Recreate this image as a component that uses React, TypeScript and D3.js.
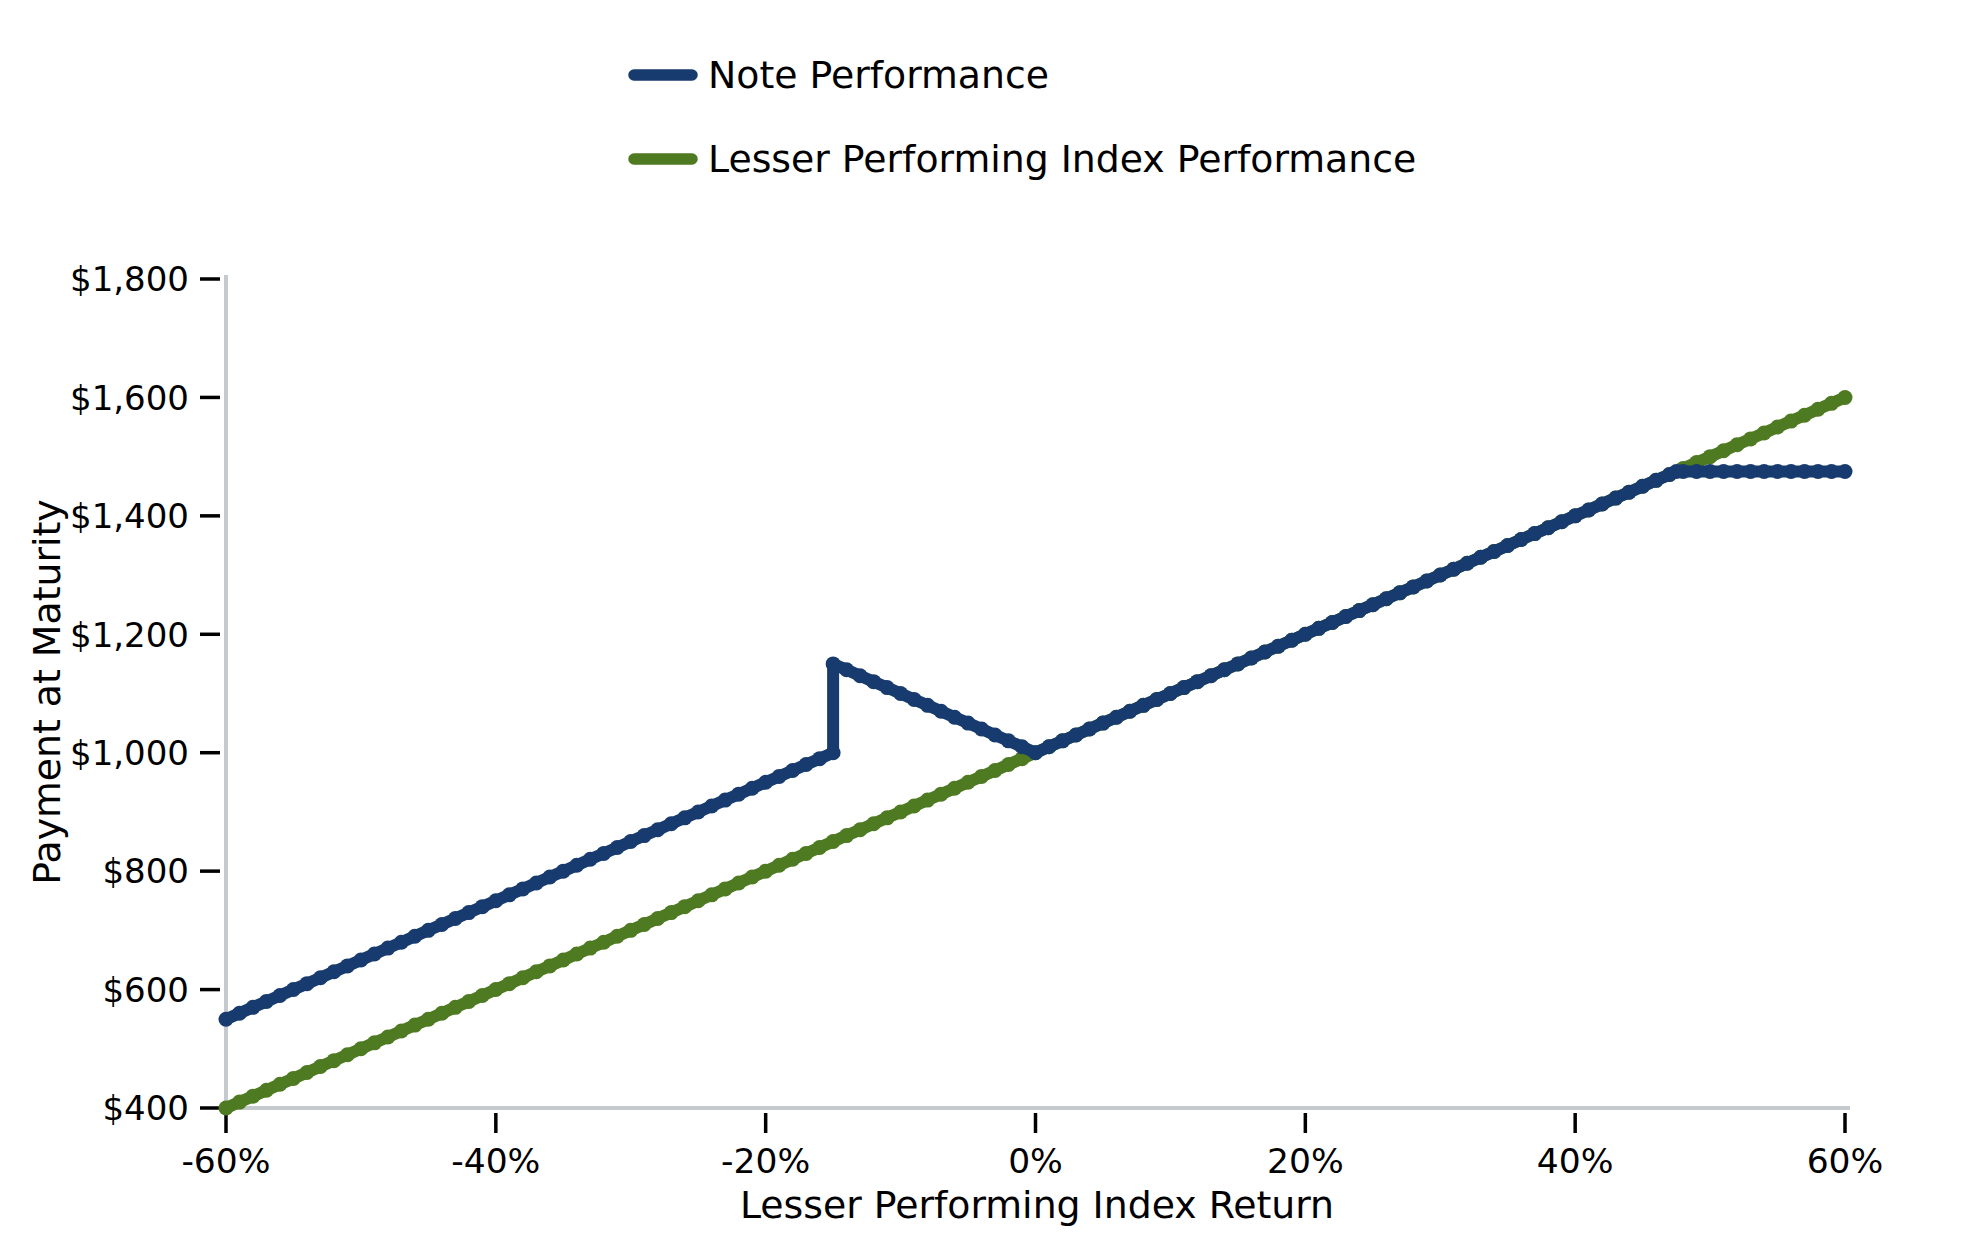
import React from "react";
import * as d3 from "d3";

// ---- data ----
const indexReturnPct = [
  -60, -59, -58, -57, -56, -55, -54, -53, -52, -51, -50, -49, -48, -47, -46, -45, -44, -43, -42, -41,
  -40, -39, -38, -37, -36, -35, -34, -33, -32, -31, -30, -29, -28, -27, -26, -25, -24, -23, -22, -21,
  -20, -19, -18, -17, -16, -15, -14, -13, -12, -11, -10, -9, -8, -7, -6, -5, -4, -3, -2, -1,
  0, 1, 2, 3, 4, 5, 6, 7, 8, 9, 10, 11, 12, 13, 14, 15, 16, 17, 18, 19,
  20, 21, 22, 23, 24, 25, 26, 27, 28, 29, 30, 31, 32, 33, 34, 35, 36, 37, 38, 39,
  40, 41, 42, 43, 44, 45, 46, 47, 48, 49, 50, 51, 52, 53, 54, 55, 56, 57, 58, 59, 60,
];
const indexPayment = [
  400, 410, 420, 430, 440, 450, 460, 470, 480, 490, 500, 510, 520, 530, 540, 550, 560, 570, 580, 590,
  600, 610, 620, 630, 640, 650, 660, 670, 680, 690, 700, 710, 720, 730, 740, 750, 760, 770, 780, 790,
  800, 810, 820, 830, 840, 850, 860, 870, 880, 890, 900, 910, 920, 930, 940, 950, 960, 970, 980, 990,
  1000, 1010, 1020, 1030, 1040, 1050, 1060, 1070, 1080, 1090, 1100, 1110, 1120, 1130, 1140, 1150, 1160, 1170, 1180, 1190,
  1200, 1210, 1220, 1230, 1240, 1250, 1260, 1270, 1280, 1290, 1300, 1310, 1320, 1330, 1340, 1350, 1360, 1370, 1380, 1390,
  1400, 1410, 1420, 1430, 1440, 1450, 1460, 1470, 1480, 1490, 1500, 1510, 1520, 1530, 1540, 1550, 1560, 1570, 1580, 1590, 1600,
];
const noteReturnPct = [
  -60, -59, -58, -57, -56, -55, -54, -53, -52, -51, -50, -49, -48, -47, -46, -45, -44, -43, -42, -41,
  -40, -39, -38, -37, -36, -35, -34, -33, -32, -31, -30, -29, -28, -27, -26, -25, -24, -23, -22, -21,
  -20, -19, -18, -17, -16, -15, -15, -14, -13, -12, -11, -10, -9, -8, -7, -6, -5, -4, -3, -2, -1,
  0, 1, 2, 3, 4, 5, 6, 7, 8, 9, 10, 11, 12, 13, 14, 15, 16, 17, 18, 19,
  20, 21, 22, 23, 24, 25, 26, 27, 28, 29, 30, 31, 32, 33, 34, 35, 36, 37, 38, 39,
  40, 41, 42, 43, 44, 45, 46, 47, 47.5, 48, 49, 50, 51, 52, 53, 54, 55, 56, 57, 58, 59, 60,
];
const notePayment = [
  550, 560, 570, 580, 590, 600, 610, 620, 630, 640, 650, 660, 670, 680, 690, 700, 710, 720, 730, 740,
  750, 760, 770, 780, 790, 800, 810, 820, 830, 840, 850, 860, 870, 880, 890, 900, 910, 920, 930, 940,
  950, 960, 970, 980, 990, 1000, 1150, 1140, 1130, 1120, 1110, 1100, 1090, 1080, 1070, 1060, 1050, 1040, 1030, 1020, 1010,
  1000, 1010, 1020, 1030, 1040, 1050, 1060, 1070, 1080, 1090, 1100, 1110, 1120, 1130, 1140, 1150, 1160, 1170, 1180, 1190,
  1200, 1210, 1220, 1230, 1240, 1250, 1260, 1270, 1280, 1290, 1300, 1310, 1320, 1330, 1340, 1350, 1360, 1370, 1380, 1390,
  1400, 1410, 1420, 1430, 1440, 1450, 1460, 1470, 1475, 1475, 1475, 1475, 1475, 1475, 1475, 1475, 1475, 1475, 1475, 1475, 1475, 1475,
];
const xTicks = [-60, -40, -20, 0, 20, 40, 60];
const yTicks = [400, 600, 800, 1000, 1200, 1400, 1600, 1800];
const seriesNames = ["Note Performance", "Lesser Performing Index Performance"];

// ---- styling ----
const W = 1979;
const H = 1250;
const BLUE = "#183b6f";
const GREEN = "#4e7a21";
const AXIS_GREY = "#c5cace";
const FONT = "DejaVu Sans, Verdana, sans-serif";

export default function App() {
  const x = d3.scaleLinear().domain([-60, 60]).range([226, 1845]);
  const y = d3.scaleLinear().domain([400, 1800]).range([1108, 279]);

  const line = d3
    .line<[number, number]>()
    .x((d) => x(d[0]))
    .y((d) => y(d[1]));

  const indexPts: [number, number][] = indexReturnPct.map((r, i) => [r, indexPayment[i]]);
  const notePts: [number, number][] = noteReturnPct.map((r, i) => [r, notePayment[i]]);

  const fmtMoney = (v: number) => "$" + d3.format(",")(v);
  const fmtPct = (v: number) => `${v}%`;

  const series = [
    { name: seriesNames[1], pts: indexPts, color: GREEN },
    { name: seriesNames[0], pts: notePts, color: BLUE },
  ];

  return (
    <svg
      width={W}
      height={H}
      viewBox={`0 0 ${W} ${H}`}
      style={{ position: "absolute", left: 0, top: 0, background: "#fff" }}
      fontFamily={FONT}
    >
      <rect x={0} y={0} width={W} height={H} fill="#fff" />

      {/* legend */}
      {[seriesNames[0], seriesNames[1]].map((name, i) => {
        const cy = 75 + i * 84;
        const color = i === 0 ? BLUE : GREEN;
        return (
          <g key={name}>
            <line x1={634} x2={692} y1={cy} y2={cy} stroke={color} strokeWidth={11.5} strokeLinecap="round" />
            <text x={708} y={cy + 13} fontSize={37.8} fill="#000">
              {name}
            </text>
          </g>
        );
      })}

      {/* axes lines */}
      <line x1={226} x2={226} y1={275} y2={1110} stroke={AXIS_GREY} strokeWidth={4} />
      <line x1={224} x2={1850} y1={1108} y2={1108} stroke={AXIS_GREY} strokeWidth={4} />

      {/* y ticks */}
      {yTicks.map((v) => (
        <g key={v}>
          <line x1={200} x2={220} y1={y(v)} y2={y(v)} stroke="#000" strokeWidth={3.5} />
          <text x={189} y={y(v)} dy="0.36em" fontSize={34} textAnchor="end" fill="#000">
            {fmtMoney(v)}
          </text>
        </g>
      ))}

      {/* x ticks */}
      {xTicks.map((v) => (
        <g key={v}>
          <line x1={x(v)} x2={x(v)} y1={1113} y2={1133} stroke="#000" strokeWidth={3.5} />
          <text x={x(v)} y={1173} fontSize={34.5} textAnchor="middle" fill="#000">
            {fmtPct(v)}
          </text>
        </g>
      ))}

      {/* axis titles */}
      <text x={1037} y={1218} fontSize={37.8} textAnchor="middle" fill="#000">
        Lesser Performing Index Return
      </text>
      <text
        transform={`translate(60, 692) rotate(-90)`}
        fontSize={37.8}
        textAnchor="middle"
        fill="#000"
      >
        Payment at Maturity
      </text>

      {/* series */}
      {series.map((s) => (
        <g key={s.name}>
          <path d={line(s.pts) ?? ""} fill="none" stroke={s.color} strokeWidth={12} strokeLinejoin="round" strokeLinecap="round" />
          {s.pts.map((p, i) => (
            <circle key={i} cx={x(p[0])} cy={y(p[1])} r={7.5} fill={s.color} />
          ))}
        </g>
      ))}
    </svg>
  );
}
